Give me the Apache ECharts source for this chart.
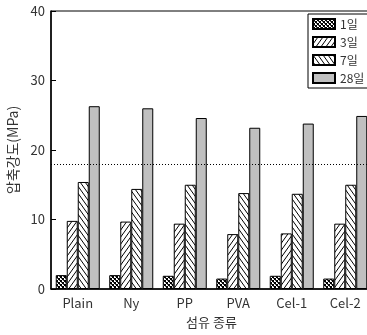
<!DOCTYPE html>
<html>
<head>
<meta charset="utf-8">
<script src="https://cdn.jsdelivr.net/npm/echarts@6/dist/echarts.min.js"></script>
<style>
  html, body { margin: 0; padding: 0; background: #fff; }
  #chart { width: 367px; height: 335px; }
</style>
</head>
<body>
<div id="chart"></div>
<script>
const categories = ['Plain', 'Ny', 'PP', 'PVA', 'Cel-1', 'Cel-2']
const seriesNames = ['1일', '3일', '7일', '28일']
const day1 = [2.0, 2.0, 1.9, 1.5, 1.9, 1.5]
const day3 = [9.8, 9.7, 9.4, 7.9, 8.0, 9.4]
const day7 = [15.4, 14.4, 15.0, 13.8, 13.7, 15.0]
const day28 = [26.3, 26.0, 24.6, 23.2, 23.8, 24.9]
const referenceLine = 18

// hatch tiles drawn on small canvases
function makeTile(w, h, draw) {
  const c = document.createElement('canvas')
  c.width = w
  c.height = h
  const ctx = c.getContext('2d')
  ctx.fillStyle = '#fff'
  ctx.fillRect(0, 0, w, h)
  ctx.strokeStyle = '#000'
  ctx.lineWidth = 1
  draw(ctx, w, h)
  return c
}

const crossTile = makeTile(4, 4, (ctx, w, h) => {
  ctx.fillStyle = '#000'
  ctx.fillRect(0, 0, 2, 2)
  ctx.fillRect(2, 2, 2, 2)
  ctx.fillStyle = '#555'
  ctx.fillRect(1, 2, 1, 1)
  ctx.fillRect(3, 0, 1, 1)
})

const slashTile = makeTile(5, 7, (ctx, w, h) => {
  ctx.beginPath()
  ctx.moveTo(-w, 2 * h); ctx.lineTo(2 * w, -h)
  ctx.moveTo(-2 * w, 2 * h); ctx.lineTo(w, -h)
  ctx.moveTo(0, 2 * h); ctx.lineTo(3 * w, -h)
  ctx.stroke()
})

const backTile = makeTile(5, 7, (ctx, w, h) => {
  ctx.beginPath()
  ctx.moveTo(-w, -h); ctx.lineTo(2 * w, 2 * h)
  ctx.moveTo(-2 * w, -h); ctx.lineTo(w, 2 * h)
  ctx.moveTo(0, -h); ctx.lineTo(3 * w, 2 * h)
  ctx.stroke()
})

const fills = [
  { image: crossTile, repeat: 'repeat' },
  { image: slashTile, repeat: 'repeat' },
  { image: backTile, repeat: 'repeat' },
  '#c0c0c0'
]
const values = [day1, day3, day7, day28]

const font = '"Noto Sans CJK KR", "Noto Sans", sans-serif'
const textColor = '#333'
const myChart = echarts.init(document.getElementById('chart'))

const option = {
  animation: false,
  grid: {
    left: 51,
    top: 11,
    right: -5,
    bottom: 46,
    outerBoundsMode: 'none',
    containLabel: false,
    show: true,
    borderColor: '#000',
    borderWidth: 1
  },
  legend: {
    orient: 'vertical',
    left: 308,
    top: 14,
    padding: [4, 40, 4, 4],
    itemWidth: 22,
    itemHeight: 10,
    itemGap: 6,
    icon: 'rect',
    backgroundColor: '#fff',
    borderColor: '#000',
    borderWidth: 1,
    borderRadius: 0,
    textStyle: { fontFamily: font, fontSize: 12, color: textColor },
    data: seriesNames
  },
  xAxis: {
    type: 'category',
    data: categories,
    name: '섬유 종류',
    nameLocation: 'middle',
    nameGap: 27,
    nameTextStyle: { fontFamily: font, fontSize: 13, color: textColor },
    axisLine: { lineStyle: { color: '#000', width: 1.5 } },
    axisTick: { show: false },
    axisLabel: { fontFamily: font, fontSize: 13, color: textColor, margin: 8 }
  },
  yAxis: {
    type: 'value',
    min: 0,
    max: 40,
    interval: 10,
    name: '압축강도(MPa)',
    nameLocation: 'middle',
    nameGap: 31,
    nameTextStyle: { fontFamily: font, fontSize: 14, color: textColor },
    axisLine: { show: true, lineStyle: { color: '#000', width: 1.5 } },
    axisTick: { show: true, inside: true, length: 5, lineStyle: { color: '#000' } },
    splitLine: { show: false },
    axisLabel: { fontFamily: font, fontSize: 13, color: textColor, margin: 6 }
  },
  series: seriesNames.map((name, i) => ({
    name: name,
    type: 'bar',
    data: values[i],
    barWidth: 11,
    barGap: '0%',
    itemStyle: { color: fills[i], borderColor: '#000', borderWidth: 1 },
    markLine: i === 0 ? {
      silent: true,
      symbol: 'none',
      label: { show: false },
      lineStyle: { color: '#000', type: [1, 2], width: 1 },
      data: [{ yAxis: referenceLine }]
    } : undefined
  }))
}
myChart.setOption(option)

window.addEventListener('resize', () => {
  myChart.resize()
})
</script>
</body>
</html>
